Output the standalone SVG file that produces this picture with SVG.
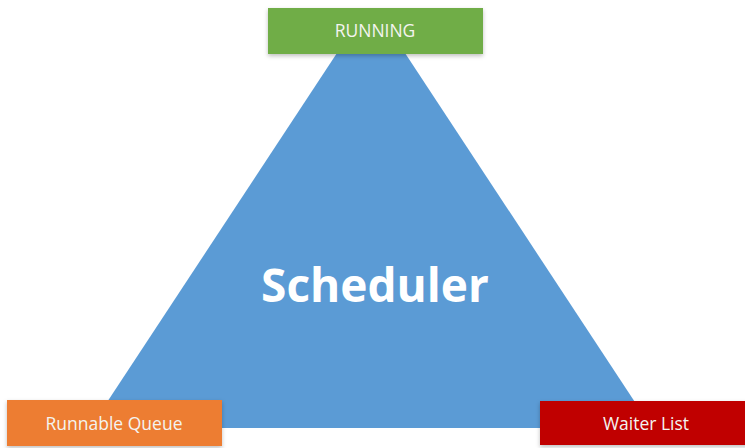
<svg xmlns="http://www.w3.org/2000/svg" width="745" height="448" viewBox="0 0 745 448">
<style>
.lbl{font-family:"Open Sans","Liberation Sans",sans-serif;font-size:17.5px;fill:#f4f4f0;text-anchor:middle}
.big{font-family:"Open Sans","Liberation Sans",sans-serif;font-size:46px;font-weight:bold;fill:#ffffff;text-anchor:middle}
</style>
<defs>
<filter id="sh" x="-10%" y="-20%" width="120%" height="150%">
<feDropShadow dx="0" dy="2" stdDeviation="2" flood-color="#000" flood-opacity="0.25"/>
</filter>
</defs>
<rect width="745" height="448" fill="#ffffff"/>
<g id="scheduler">
<polygon points="364,12 378,12 652,428 90,428" fill="#5b9bd5"/>
<text class="big" x="375" y="302">Scheduler</text>
</g>
<g id="running">
<rect x="268" y="8" width="215" height="46" fill="#70ad47" filter="url(#sh)"/>
<text class="lbl" x="375" y="37">RUNNING</text>
</g>
<g id="runnable-queue">
<rect x="7" y="400" width="215" height="46" fill="#ed7d31" filter="url(#sh)"/>
<text class="lbl" x="114" y="430">Runnable Queue</text>
</g>
<g id="waiter-list">
<rect x="540" y="401" width="210" height="44" fill="#c00000" filter="url(#sh)"/>
<text class="lbl" x="646" y="430">Waiter List</text>
</g>
<g id="connectors"></g>
</svg>
